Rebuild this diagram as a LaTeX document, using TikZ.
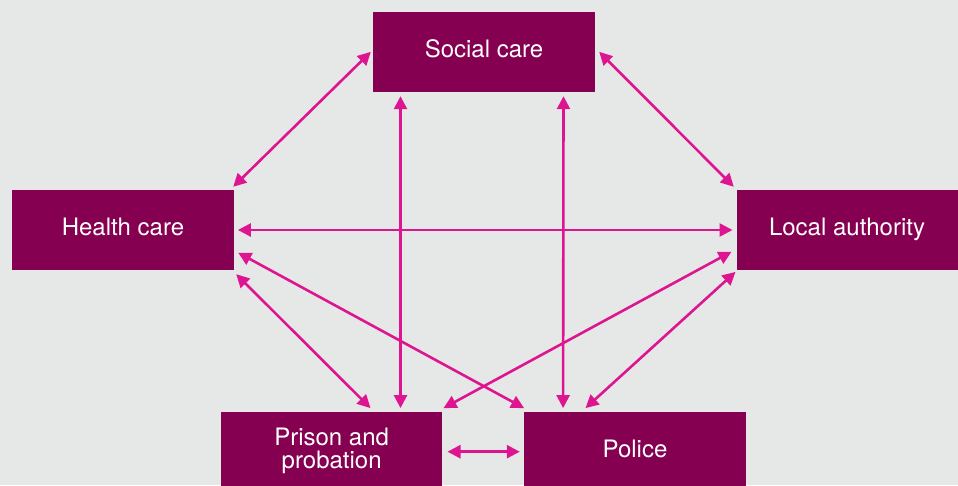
\documentclass[tikz,border=0pt]{standalone}
\usepackage{fontspec}
\setmainfont{TeX Gyre Heros}
\usetikzlibrary{arrows.meta}
\definecolor{pagebg}{HTML}{E6E8E7}
\definecolor{boxfill}{HTML}{850050}
\definecolor{linkpink}{HTML}{DE1590}
\tikzset{
  agency/.style={rectangle, fill=boxfill, inner sep=0pt,
    minimum width=222pt, minimum height=80pt},
  agencytext/.style={text=white, inner sep=0pt, align=center, yshift=3pt,
    font=\fontsize{24}{23.3}\selectfont},
  link/.style={draw=linkpink, line width=2.6pt,
    {Triangle[length=13pt,width=13pt]}-{Triangle[length=13pt,width=13pt]}}
}
\begin{document}
\begin{tikzpicture}[x=1pt, y=-1pt]
  \useasboundingbox (0,0) rectangle (958,485);
  \fill[pagebg] (0,0) rectangle (958,485);

  % agencies
  \node[agency, minimum height=79.7pt] (social) at (484,51.85) {};
  \node[agency] (health) at (123,230) {};
  \node[agency] (local) at (848,230) {};
  \node[agency, minimum width=221.3pt] (prison) at (331.65,451.7) {};
  \node[agency] (police) at (635,451.7) {};

  % agency names, set a little above each box centre
  \node[agencytext] (socialname) at (social) {Social care};
  \node[agencytext] (healthname) at (health) {Health care};
  \node[agencytext, text depth=0pt] (localname) at ([xshift=-1pt]local.center) {Local authority};
  \node[agencytext, yshift=-2pt] (prisonname) at (prison) {Prison and\\probation};
  \node[agencytext] (policename) at (police) {Police};

  % two-way links
  \draw[link] ([shift={(-1,-3)}]health.north east) -- ([shift={(-2,0)}]social.west);
  \draw[link] ([shift={(4,0)}]social.east) -- ([shift={(-3,-3)}]local.north west);
  \draw[link] ([shift={(27.7,4.3)}]social.south west) -- ([shift={(179.7,-3.4)}]prison.north west);
  \draw[link] ([shift={(-31.7,4.3)}]social.south east) -- ([shift={(39.3,-3.4)}]police.north west);
  \draw[link] ([shift={(3.7,0)}]health.east) -- ([shift={(-4.3,0)}]local.west);
  \draw[link] ([shift={(2,4)}]health.south east) -- ([shift={(149.7,-3.4)}]prison.north west);
  \draw[link] ([shift={(4,22.7)}]health.east) -- ([shift={(0.3,-3.4)}]police.north west);
  \draw[link] ([shift={(-5.3,21.7)}]local.west) -- ([shift={(1,-3.4)}]prison.north east);
  \draw[link] ([shift={(-1.3,1.7)}]local.south west) -- ([shift={(61.7,-3.4)}]police.north west);
  \draw[link] ([shift={(5,0)}]prison.east) -- ([shift={(-4,0)}]police.west);
\end{tikzpicture}
\end{document}
